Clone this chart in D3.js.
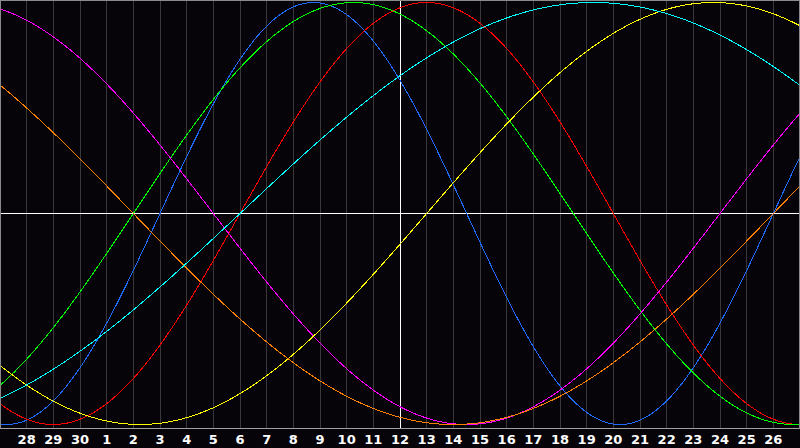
<!DOCTYPE html>
<html><head><meta charset="utf-8">
<script src="https://cdn.jsdelivr.net/npm/d3@7"></script>
<style>html,body{margin:0;padding:0;background:#060409;}svg{display:block;}</style>
</head><body>
<svg id="c" width="800" height="448"></svg>
<script>
// Biorhythm cycles
const cycleNames = ["Physical","Emotional","Intellectual","Intuitive","Aesthetic","Awareness","Spiritual"];
const cyclePeriods = [23, 28, 33, 38, 43, 48, 53];            // days
const cycleDayAtStart = [17, 19, 28, 11, 27, 19, 44];          // day within cycle at first chart day
const cycleColors = ["#1e6bff","#ff0000","#00ff00","#ff00ff","#ffff00","#ff8000","#00ffff"];
// day labels (first grid day is 27, unlabeled)
const dayLabels = ["28","29","30","1","2","3","4","5","6","7","8","9","10","11","12","13","14","15","16","17","18","19","20","21","22","23","24","25","26"];
const totalDays = 30;
const todayIndex = 15; // day 12

const W = 800, H = 448;
const svg = d3.select("#c");
const x = d3.scaleLinear().domain([0, totalDays]).range([0, W]);
const y = d3.scaleLinear().domain([-1, 1]).range([424.5, 2.5]);

svg.append("rect").attr("width", W).attr("height", H).attr("fill", "#060409");

// vertical day grid
const gridIdx = d3.range(1, totalDays);
svg.append("g").selectAll("line").data(gridIdx).join("line")
  .attr("x1", d => Math.floor(x(d)) + 0.5).attr("x2", d => Math.floor(x(d)) + 0.5)
  .attr("y1", 0).attr("y2", 428)
  .attr("stroke", "#383838").attr("stroke-width", 1).attr("shape-rendering", "crispEdges");

// zero line and today line
svg.append("line").attr("x1", 0).attr("x2", W).attr("y1", Math.floor(y(0)) + 0.5).attr("y2", Math.floor(y(0)) + 0.5)
  .attr("stroke", "#ffffff").attr("shape-rendering", "crispEdges");
svg.append("line").attr("x1", Math.floor(x(todayIndex)) + 0.5).attr("x2", Math.floor(x(todayIndex)) + 0.5)
  .attr("y1", 0).attr("y2", 428).attr("stroke", "#ffffff").attr("shape-rendering", "crispEdges");

// curves
const samples = d3.range(0, totalDays + 0.001, totalDays / W);
const line = d3.line().x(d => x(d.t)).y(d => y(d.v));
cycleNames.forEach((name, i) => {
  const P = cyclePeriods[i], s = cycleDayAtStart[i];
  const pts = samples.map(t => ({t, v: Math.sin(2 * Math.PI * (s + t) / P)}));
  svg.append("path").datum(pts).attr("d", line)
    .attr("fill", "none").attr("stroke", cycleColors[i]).attr("stroke-width", 1)
    .attr("shape-rendering", "crispEdges");
});

// border and axis line
svg.append("rect").attr("x", 0.5).attr("y", 0.5).attr("width", W - 1).attr("height", 428)
  .attr("fill", "none").attr("stroke", "#8a8a8a").attr("shape-rendering", "crispEdges");
svg.append("rect").attr("x", 0).attr("y", 429).attr("width", W).attr("height", 19).attr("fill", "#060409");
svg.append("line").attr("x1", 0).attr("x2", W).attr("y1", 428.5).attr("y2", 428.5)
  .attr("stroke", "#a0a0a0").attr("shape-rendering", "crispEdges");

// labels
svg.append("g").selectAll("text").data(dayLabels).join("text")
  .attr("x", (d, i) => x(i + 1)).attr("y", 444)
  .attr("text-anchor", "middle")
  .attr("font-family", "DejaVu Sans, sans-serif").attr("font-weight", "bold").attr("font-size", 13)
  .attr("fill", "#ffffff").text(d => d);
</script>
</body></html>
